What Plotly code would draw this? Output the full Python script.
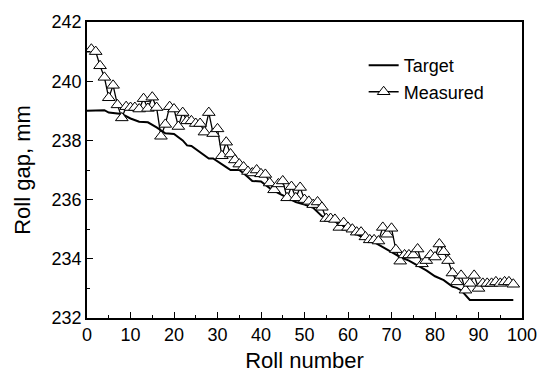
import plotly.graph_objects as go

# Target roll gap schedule (roll number, gap in mm)
target_roll = [0, 4, 5, 8, 10, 12, 14, 16, 18, 20, 22, 23, 24, 26, 28, 29, 30, 32, 33, 35,
               36, 38, 40, 42, 44, 46, 48, 50, 52, 54, 55, 56, 58, 60, 62, 64, 66, 68, 70,
               72, 74, 76, 78, 80, 82, 84, 85, 86, 88, 98]
target_gap = [239.0, 239.02, 238.94, 238.89, 238.74, 238.63, 238.61, 238.44, 238.24, 238.22,
              238.0, 237.83, 237.81, 237.59, 237.39, 237.39, 237.3, 237.1, 237.0, 237.0,
              236.89, 236.63, 236.61, 236.39, 236.22, 236.06, 235.92, 235.83, 235.72, 235.44,
              235.39, 235.36, 235.17, 235.0, 234.83, 234.67, 234.56, 234.39, 234.22,
              234.06, 233.94, 233.78, 233.61, 233.41, 233.28, 233.06, 233.02, 232.94, 232.61, 232.61]

# Measured roll gap for rolls 1..98
measured_roll = list(range(1, 99))
measured_gap = [241.08, 241.0, 240.52, 240.13, 239.44, 239.86, 239.2, 238.76, 239.14, 239.11,
                239.11, 239.06, 239.41, 239.08, 239.46, 239.11, 238.14, 238.54, 239.14, 239.06,
                238.47, 238.94, 238.66, 238.66, 238.57, 238.57, 238.28, 238.94, 238.23, 238.39,
                237.48, 237.94, 237.54, 237.34, 237.2, 237.1, 236.95, 236.9, 237.0, 236.87,
                236.85, 236.56, 236.33, 236.53, 236.63, 236.06, 236.44, 236.06, 236.41, 236.0,
                235.94, 235.83, 235.92, 235.74, 235.36, 235.36, 235.33, 235.06, 235.22, 235.06,
                235.0, 234.9, 234.9, 234.74, 234.64, 234.64, 234.6, 235.06, 234.83, 235.03,
                234.31, 233.92, 234.13, 234.13, 234.13, 234.33, 233.83, 233.94, 234.13, 234.06,
                234.5, 234.24, 233.94, 233.52, 233.22, 233.44, 232.94, 233.17, 233.44, 233.0,
                233.17, 233.17, 233.17, 233.22, 233.17, 233.22, 233.22, 233.14]

FONT = "Liberation Sans, Arial, sans-serif"

fig = go.Figure()
fig.add_trace(go.Scatter(
    x=target_roll, y=target_gap, mode="lines", name="Target",
    line=dict(color="black", width=2),
))
fig.add_trace(go.Scatter(
    x=measured_roll, y=measured_gap, mode="lines+markers", name="Measured",
    line=dict(color="black", width=1.3),
    marker=dict(symbol="triangle-up", size=11, color="white",
                line=dict(color="black", width=1)),
))

axis_common = dict(
    showgrid=False, zeroline=False, showline=True, linecolor="black", linewidth=1.5,
    mirror=True, ticks="inside", ticklen=6, tickwidth=1.3, tickcolor="black",
    tickfont=dict(family=FONT, size=18, color="black"),
)

fig.update_xaxes(
    range=[0, 100], tick0=0, dtick=10,
    minor=dict(ticks="inside", dtick=5, ticklen=3, tickwidth=1.2, tickcolor="black"),
    title=dict(text="Roll number", font=dict(family=FONT, size=22, color="black"), standoff=8),
    **axis_common,
)
fig.update_yaxes(
    range=[232, 242], tick0=232, dtick=2,
    minor=dict(ticks="inside", dtick=1, ticklen=3, tickwidth=1.2, tickcolor="black"),
    title=dict(text="Roll gap, mm", font=dict(family=FONT, size=22, color="black"), standoff=15),
    **axis_common,
)

fig.update_layout(
    width=549, height=381,
    margin=dict(l=87, r=17, t=22, b=61),
    paper_bgcolor="white", plot_bgcolor="white",
    legend=dict(x=0.636, y=0.915, xanchor="left", yanchor="top",
                bgcolor="rgba(0,0,0,0)", borderwidth=0,
                font=dict(family=FONT, size=18, color="black"),
                itemwidth=30, tracegroupgap=0),
    showlegend=True,
)

fig.write_html("out.html")
